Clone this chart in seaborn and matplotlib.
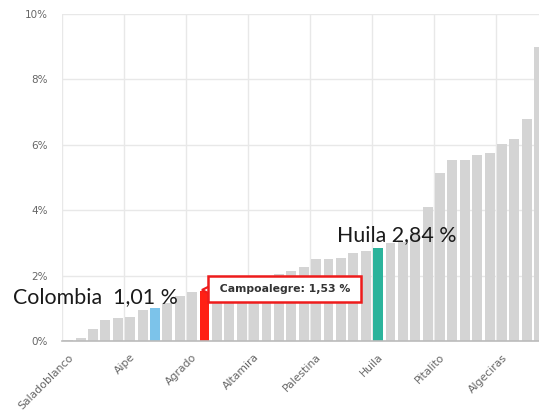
import numpy as np
import pandas as pd
import seaborn as sns
import matplotlib.pyplot as plt

# share (%) per bar, sorted ascending; only every 5th bar carries a tick label
pct = [0.02, 0.10, 0.37, 0.64, 0.69, 0.72, 0.95, 1.01, 1.15, 1.38, 1.49, 1.53,
       1.60, 1.70, 1.80, 1.90, 1.97, 2.05, 2.15, 2.25, 2.50, 2.50, 2.54, 2.70, 2.74,
       2.84, 2.99, 3.02, 3.30, 4.10, 5.13, 5.53, 5.53, 5.69, 5.74, 6.02, 6.17, 6.78, 9.00]
tick_pos = [0, 5, 10, 15, 20, 25, 30, 35]
tick_names = ["Saladoblanco", "Aipe", "Agrado", "Altamira", "Palestina",
              "Huila", "Pitalito", "Algeciras"]
y_ticks = [0, 2, 4, 6, 8, 10]

# highlighted bars
highlight = {7: "#7cc3ea", 11: "#ff2015", 25: "#2bb39b"}
base_color = "#d4d4d4"

df = pd.DataFrame({"pos": np.arange(len(pct)), "pct": pct})

sns.set_style("white")
plt.rcParams["font.family"] = ["DejaVu Sans"]

fig = plt.figure(figsize=(5.39, 4.17), dpi=100)
ax = fig.add_axes([62 / 539, 1 - 341 / 417, (539 - 62) / 539, (341 - 14) / 417])

sns.barplot(data=df, x="pos", y="pct", color=base_color, width=0.8,
            saturation=1, ax=ax, zorder=2)
for i, patch in enumerate(ax.patches):
    if i in highlight:
        patch.set_facecolor(highlight[i])
    patch.set_edgecolor("none")

ax.set_xlim(-0.5, (539 - 68) / 12.4)
ax.set_ylim(0, 10)

ax.set_xticks(tick_pos)
ax.set_xticklabels(tick_names, rotation=45, ha="right", rotation_mode="anchor",
                   fontsize=7.8, color="#666666")
ax.set_xticks([p - 0.5 for p in tick_pos], minor=True)
ax.tick_params(axis="x", which="major", length=5, color="#c0c0c0", pad=3)
ax.tick_params(axis="x", which="minor", length=0)

ax.set_yticks(y_ticks)
ax.set_yticklabels([f"{v}%" for v in y_ticks], fontsize=7.5, color="#666666")
ax.tick_params(axis="y", length=0, pad=10)

ax.grid(True, axis="y", color="#e8e8e8", linewidth=1, zorder=0)
ax.grid(True, axis="x", which="minor", color="#e8e8e8", linewidth=1, zorder=0)
ax.grid(False, axis="x", which="major")
ax.set_axisbelow(True)

for s in ["top", "right", "left"]:
    ax.spines[s].set_visible(False)
ax.spines["bottom"].set_color("#bbbbbb")
ax.spines["bottom"].set_linewidth(1.2)
ax.set_xlabel("")
ax.set_ylabel("")

# annotations
big = dict(fontsize=15.4, family=["Lato", "DejaVu Sans"], color="#1a1a1a")
ax.text(-4.44, 1.16, "Colombia  1,01 %", ha="left", va="baseline",
        clip_on=False, **big)
ax.text(21.7, 3.06, "Huila 2,84 %", ha="left", va="baseline", **big)

# callout box with a small pointer towards the red bar
ax.plot([11.3], [1.56], marker="<", ms=9, mfc="white", mec="#ee1c1c",
        mew=1.6, zorder=3, clip_on=False)
ax.text(11.9, 1.59, " Campoalegre: 1,53 % ", ha="left", va="center",
        fontsize=7.8, fontweight="bold", color="#333333", zorder=4,
        bbox=dict(boxstyle="square,pad=0.7", fc="white", ec="#ee1c1c", lw=1.8))

fig.savefig("out.png", dpi=100)
